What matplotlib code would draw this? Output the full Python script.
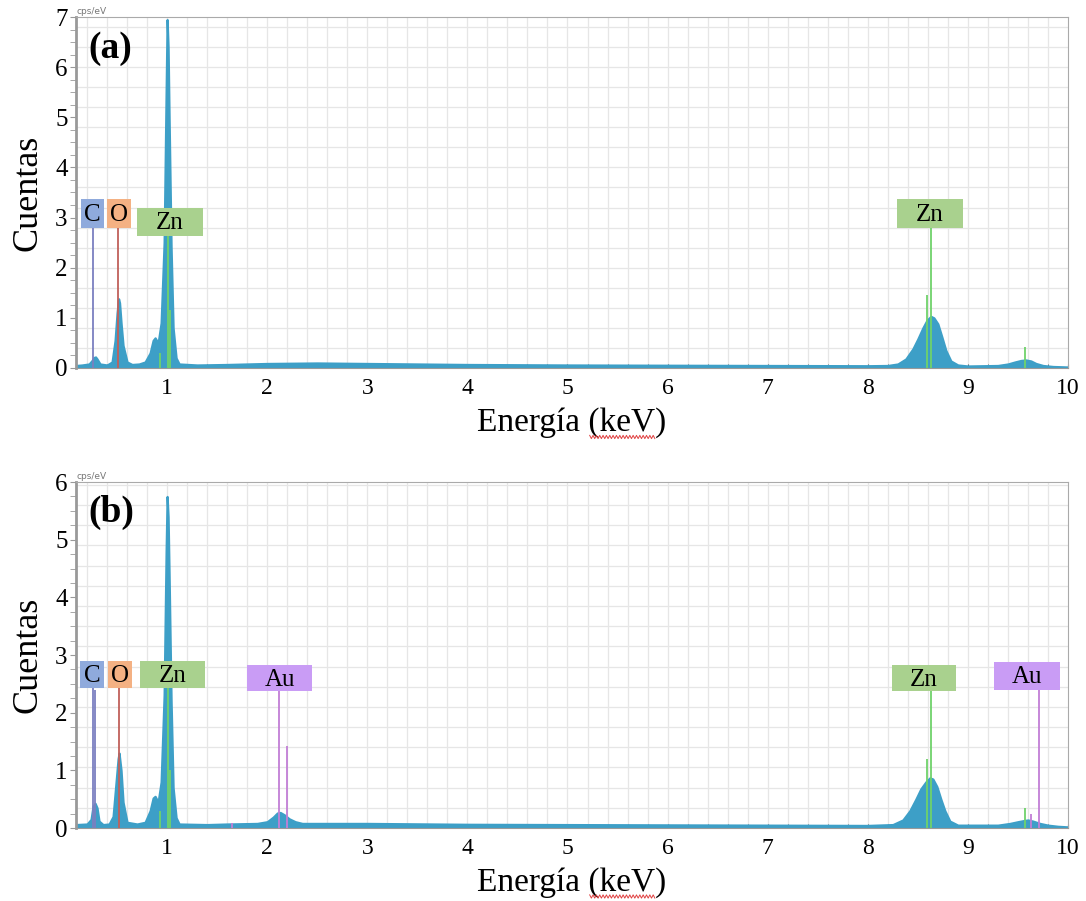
import matplotlib
matplotlib.use("Agg")
import matplotlib.pyplot as plt
from matplotlib.patches import Rectangle
from matplotlib.ticker import MultipleLocator
import numpy as np

plt.rcParams['font.family'] = ['Liberation Serif', 'DejaVu Serif']

# traced spectrum (a): energy (keV), counts (cps/eV)
energy_a = [0.09, 0.15, 0.22, 0.25, 0.27, 0.285, 0.30, 0.33, 0.40, 0.45, 0.48, 0.50, 0.515, 0.525,
            0.54, 0.56, 0.60, 0.65, 0.72, 0.78, 0.83, 0.86, 0.88, 0.91, 0.94, 0.97, 0.99, 1.0, 1.01,
            1.02, 1.04, 1.06, 1.09, 1.12, 1.3, 1.6, 2.0, 2.5, 3.0, 3.5, 4.0, 5.0, 6.0, 7.0, 8.0,
            8.2, 8.3, 8.38, 8.45, 8.5, 8.55, 8.59, 8.63, 8.66, 8.70, 8.74, 8.78, 8.83, 8.9, 9.0,
            9.3, 9.4, 9.47, 9.53, 9.58, 9.63, 9.68, 9.75, 9.85, 10.0]
counts_a = [0.05, 0.06, 0.08, 0.15, 0.21, 0.22, 0.18, 0.08, 0.06, 0.12, 0.55, 1.1, 1.38, 1.3,
            0.9, 0.45, 0.12, 0.07, 0.08, 0.12, 0.3, 0.55, 0.6, 0.5, 0.9, 2.5, 5.5, 6.95, 6.4,
            5.0, 2.4, 0.8, 0.2, 0.08, 0.06, 0.07, 0.09, 0.1, 0.09, 0.08, 0.07, 0.06, 0.055, 0.05, 0.045,
            0.05, 0.08, 0.18, 0.38, 0.58, 0.8, 0.95, 1.03, 1.0, 0.88, 0.62, 0.35, 0.14, 0.06, 0.04,
            0.05, 0.08, 0.12, 0.15, 0.16, 0.14, 0.09, 0.05, 0.03, 0.02]

# traced spectrum (b)
energy_b = [0.09, 0.2, 0.24, 0.26, 0.28, 0.30, 0.32, 0.36, 0.42, 0.46, 0.49, 0.51, 0.52, 0.54,
            0.56, 0.6, 0.7, 0.78, 0.83, 0.86, 0.88, 0.91, 0.94, 0.97, 0.99, 1.0, 1.01, 1.02, 1.04,
            1.06, 1.09, 1.12, 1.4, 1.6, 1.9, 2.0, 2.06, 2.1, 2.13, 2.17, 2.22, 2.28, 2.35, 3.0,
            4.0, 5.0, 6.0, 7.0, 8.0, 8.25, 8.35, 8.42, 8.48, 8.53, 8.58, 8.62, 8.65, 8.69, 8.73,
            8.77, 8.82, 8.9, 9.3, 9.42, 9.5, 9.56, 9.6, 9.65, 9.72, 9.8, 9.9, 10.0]
counts_b = [0.06, 0.07, 0.15, 0.38, 0.43, 0.35, 0.12, 0.06, 0.07, 0.2, 0.8, 1.2, 1.3, 1.0,
            0.45, 0.1, 0.07, 0.1, 0.3, 0.52, 0.55, 0.45, 0.8, 2.3, 4.8, 5.75, 5.4, 4.4, 2.2,
            0.7, 0.18, 0.07, 0.06, 0.07, 0.08, 0.11, 0.19, 0.26, 0.27, 0.23, 0.16, 0.11, 0.08, 0.08,
            0.065, 0.06, 0.055, 0.05, 0.045, 0.06, 0.14, 0.3, 0.5, 0.68, 0.8, 0.87, 0.85, 0.72, 0.5,
            0.3, 0.12, 0.05, 0.05, 0.08, 0.11, 0.13, 0.14, 0.12, 0.08, 0.05, 0.03, 0.02]

# element labels: name, energy of line, box x0, x1, box y0, y1
labels_a = [("C", 0.26, 0.14, 0.37, 2.80, 3.38),
            ("O", 0.51, 0.40, 0.64, 2.80, 3.38),
            ("Zn", 1.01, 0.70, 1.36, 2.64, 3.20),
            ("Zn", 8.63, 8.29, 8.95, 2.80, 3.38)]
labels_b = [("C", 0.26, 0.13, 0.37, 2.43, 2.90),
            ("O", 0.52, 0.41, 0.65, 2.43, 2.90),
            ("Zn", 1.01, 0.73, 1.38, 2.43, 2.90),
            ("Au", 2.12, 1.80, 2.45, 2.37, 2.83),
            ("Zn", 8.63, 8.24, 8.88, 2.37, 2.83),
            ("Au", 9.71, 9.26, 9.92, 2.40, 2.88)]

# secondary marker lines: element, energy, height
markers_a = [("Zn", 1.03, 1.15), ("Zn", 0.93, 0.3), ("Zn", 8.59, 1.45), ("Zn", 9.57, 0.42)]
markers_b = [("C", 0.28, 2.4), ("Zn", 1.03, 1.0), ("Zn", 0.93, 0.3), ("Au", 2.20, 1.42),
             ("Zn", 8.59, 1.2), ("Zn", 9.57, 0.35), ("Au", 9.63, 0.25), ("Au", 1.65, 0.08)]

box_colors = {"C": "#8faadc", "O": "#f4b183", "Zn": "#a9d18e", "Au": "#c99cf5"}
line_colors = {"C": "#7b7fc0", "O": "#c0605a", "Zn": "#6fd26a", "Au": "#c27ed6"}
spec_color = "#3d9fc7"


def drawPanel(ax, xs, ys, ymax, gridStep, labels, markers, tag):
	ax.set_xlim(0.09, 10)
	ax.set_ylim(0, ymax)

	for gx in np.arange(0.2, 10, 0.2):
		ax.axvline(gx, color="#e6e6e6", lw=0.9, zorder=0)
	for gy in np.arange(gridStep, ymax, gridStep):
		ax.axhline(gy, color="#e6e6e6", lw=0.9, zorder=0)

	ax.fill_between(xs, 0, ys, color=spec_color, lw=1.6, edgecolor=spec_color, zorder=2)

	for name, e, h in markers:
		ax.vlines(e, 0, h, color=line_colors[name], lw=1.3, zorder=3)

	for name, e, x0, x1, y0, y1 in labels:
		ax.vlines(e, 0, y0, color=line_colors[name], lw=1.3, zorder=3)
		ax.add_patch(Rectangle((x0, y0), x1 - x0, y1 - y0, facecolor=box_colors[name],
							   edgecolor="none", zorder=4))
		ax.text((x0 + x1) / 2, (y0 + y1) / 2 - 0.03 * ymax / 7, name, ha="center", va="center",
				fontsize=18, zorder=5)

	ax.text(0.21, ymax - 0.62 * ymax / 7, tag, fontsize=27, fontweight="bold", va="center")
	ax.text(0.0, 1.003, "cps/eV", transform=ax.transAxes, fontsize=6.5, color="#777777",
			family="DejaVu Sans", va="bottom", ha="left")

	ax.xaxis.set_major_locator(MultipleLocator(1))
	ax.xaxis.set_minor_locator(MultipleLocator(0.2))
	ax.yaxis.set_major_locator(MultipleLocator(1))
	ax.yaxis.set_minor_locator(MultipleLocator(0.25))
	ax.tick_params(axis="x", which="both", direction="in", length=3, color="#555555",
				   labelsize=17, pad=7)
	ax.tick_params(axis="y", which="both", direction="out", length=4, color="#999999",
				   labelsize=18, pad=2)
	ax.set_xticks(range(1, 11))

	for s in ["top", "right"]:
		ax.spines[s].set_color("#aaaaaa")
	ax.spines["left"].set_color("#999999")
	ax.spines["left"].set_linewidth(2)
	ax.spines["bottom"].set_color("#999999")

	ax.set_xlabel("Energía (keV)", fontsize=24, labelpad=6)
	ax.set_ylabel("Cuentas", fontsize=26, labelpad=8)


fig = plt.figure(figsize=(10.86, 9.01), dpi=100)
axA = fig.add_axes([0.070, 0.5916, 0.9134, 0.3895])
axB = fig.add_axes([0.070, 0.0810, 0.9134, 0.3840])

drawPanel(axA, energy_a, counts_a, 7, 0.4, labels_a, markers_a, "(a)")
drawPanel(axB, energy_b, counts_b, 6, 0.35, labels_b, markers_b, "(b)")

# spell-check underline under "keV"
for yb in [0.515, 0.005]:
	wx = np.linspace(0.543, 0.603, 40)
	wy = yb + 0.0018 * np.where(np.arange(40) % 2 == 0, 1, -1)
	fig.add_artist(plt.Line2D(wx, wy, color="#e04040", lw=0.7, transform=fig.transFigure))

fig.savefig("out.png", dpi=100)
